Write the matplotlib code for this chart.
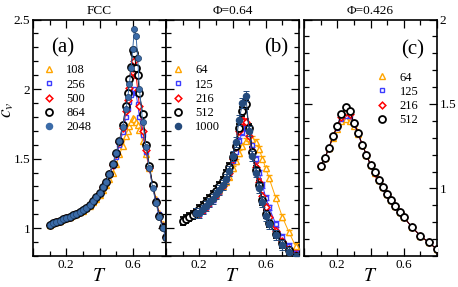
import matplotlib
matplotlib.use('Agg')
import matplotlib.pyplot as plt
from matplotlib.lines import Line2D
from matplotlib.ticker import MultipleLocator, FormatStrFormatter

plt.rcParams['font.family'] = ['Liberation Serif', 'DejaVu Serif']
plt.rcParams['mathtext.fontset'] = 'stix'

# ---- panel (a): FCC ----
T_a = [0.10, 0.12, 0.14, 0.16, 0.18, 0.20, 0.22, 0.24, 0.26, 0.28, 0.30, 0.32, 0.34,
       0.36, 0.38, 0.40, 0.42, 0.44, 0.46, 0.48, 0.50, 0.52, 0.54, 0.56, 0.57, 0.58,
       0.59, 0.60, 0.61, 0.62, 0.63, 0.64, 0.66, 0.68, 0.70, 0.72, 0.74, 0.76, 0.78, 0.80]
a_108 = [1.022, 1.035, 1.044, 1.054, 1.063, 1.071, 1.081, 1.092, 1.103, 1.114, 1.127, 1.142,
         1.162, 1.186, 1.212, 1.240, 1.274, 1.308, 1.350, 1.400, 1.460, 1.530, 1.590, 1.660,
         1.700, 1.735, 1.765, 1.790, 1.785, 1.765, 1.740, 1.705, 1.625, 1.530, 1.430, 1.320,
         1.210, 1.110, 1.030, 0.960]
a_256 = [1.022, 1.035, 1.044, 1.054, 1.063, 1.071, 1.081, 1.092, 1.104, 1.116, 1.130, 1.146,
         1.168, 1.195, 1.222, 1.253, 1.292, 1.330, 1.385, 1.445, 1.515, 1.600, 1.690, 1.800,
         1.860, 1.910, 1.960, 1.990, 2.000, 1.970, 1.890, 1.800, 1.670, 1.550, 1.430, 1.310,
         1.200, 1.100, 1.020, 0.950]
a_500 = [1.022, 1.035, 1.044, 1.054, 1.063, 1.071, 1.081, 1.092, 1.104, 1.116, 1.130, 1.146,
         1.168, 1.195, 1.223, 1.255, 1.295, 1.333, 1.390, 1.455, 1.530, 1.620, 1.720, 1.840,
         1.920, 2.010, 2.090, 2.150, 2.200, 2.100, 1.990, 1.880, 1.700, 1.560, 1.430, 1.300,
         1.190, 1.090, 1.010, 0.940]
a_864 = [1.022, 1.035, 1.044, 1.054, 1.063, 1.071, 1.081, 1.092, 1.104, 1.116, 1.130, 1.146,
         1.168, 1.195, 1.223, 1.255, 1.296, 1.333, 1.393, 1.458, 1.537, 1.630, 1.740, 1.880,
         1.970, 2.070, 2.160, 2.280, 2.260, 2.150, 2.100, 1.970, 1.820, 1.600, 1.450, 1.310,
         1.190, 1.090, 1.010, 0.940]
a_2048 = [1.022, 1.035, 1.044, 1.054, 1.063, 1.071, 1.081, 1.092, 1.104, 1.116, 1.130, 1.146,
          1.168, 1.195, 1.223, 1.255, 1.296, 1.333, 1.393, 1.458, 1.537, 1.630, 1.730, 1.860,
          1.940, 2.040, 2.150, 2.290, 2.430, 2.380, 2.220, 2.000, 1.760, 1.580, 1.430, 1.290,
          1.180, 1.080, 1.000, 0.930]

# ---- panel (b): Phi = 0.64 ----
T_b = [0.10, 0.12, 0.14, 0.16, 0.18, 0.20, 0.22, 0.24, 0.26, 0.28, 0.30, 0.32, 0.34, 0.36,
       0.38, 0.40, 0.42, 0.44, 0.46, 0.48, 0.50, 0.52, 0.54, 0.56, 0.58, 0.60, 0.62, 0.66,
       0.70, 0.74, 0.78]
T_b_short = T_b[4:]
b_64 = [1.100, 1.125, 1.145, 1.170, 1.195, 1.220, 1.245, 1.275, 1.300, 1.335, 1.370, 1.430,
        1.480, 1.540, 1.590, 1.630, 1.650, 1.640, 1.620, 1.570, 1.500, 1.430, 1.360, 1.220,
        1.080, 0.970, 0.870]
b_125 = [1.105, 1.105, 1.130, 1.155, 1.180, 1.205, 1.235, 1.265, 1.300, 1.345, 1.395, 1.480,
         1.550, 1.630, 1.690, 1.720, 1.680, 1.600, 1.500, 1.400, 1.310, 1.220, 1.150, 1.030,
         0.940, 0.870, 0.820]
b_216 = [1.108, 1.108, 1.133, 1.158, 1.183, 1.210, 1.240, 1.272, 1.305, 1.350, 1.400, 1.500,
         1.580, 1.700, 1.770, 1.760, 1.660, 1.550, 1.440, 1.330, 1.230, 1.150, 1.080, 0.980,
         0.910, 0.850, 0.810]
b_512 = [1.050, 1.065, 1.080, 1.095, 1.110, 1.135, 1.160, 1.185, 1.210, 1.240, 1.270, 1.305,
         1.340, 1.390, 1.440, 1.510, 1.590, 1.720, 1.840, 1.890, 1.720, 1.550, 1.420, 1.310,
         1.200, 1.100, 1.040, 0.960, 0.890, 0.840, 0.800]
b_1000 = [1.110, 1.110, 1.135, 1.160, 1.185, 1.212, 1.243, 1.275, 1.310, 1.355, 1.410, 1.520,
          1.620, 1.780, 1.900, 1.950, 1.700, 1.520, 1.400, 1.290, 1.190, 1.090, 1.030, 0.950,
          0.880, 0.830, 0.790]
b_err = [0.02, 0.02, 0.025, 0.03, 0.035]

# ---- panel (c): Phi = 0.426 ----
T_c = [0.100, 0.125, 0.150, 0.175, 0.200, 0.225, 0.250, 0.275, 0.300, 0.325, 0.350, 0.375,
       0.400, 0.425, 0.450, 0.475, 0.500, 0.525, 0.550, 0.575, 0.600, 0.650, 0.700, 0.750, 0.800]
c_64 = [1.13, 1.18, 1.24, 1.30, 1.35, 1.40, 1.41, 1.40, 1.37, 1.32, 1.26, 1.20, 1.14, 1.09,
        1.05, 1.01, 0.97, 0.93, 0.895, 0.86, 0.83, 0.77, 0.72, 0.68, 0.64]
c_125 = [1.13, 1.18, 1.24, 1.31, 1.36, 1.41, 1.43, 1.43, 1.38, 1.32, 1.26, 1.20, 1.14, 1.09,
         1.05, 1.01, 0.97, 0.93, 0.895, 0.86, 0.83, 0.77, 0.72, 0.68, 0.64]
c_216 = [1.13, 1.18, 1.24, 1.31, 1.37, 1.42, 1.45, 1.44, 1.39, 1.33, 1.26, 1.20, 1.14, 1.09,
         1.05, 1.01, 0.97, 0.93, 0.895, 0.86, 0.83, 0.77, 0.72, 0.68, 0.64]
c_512 = [1.13, 1.18, 1.24, 1.31, 1.37, 1.44, 1.48, 1.46, 1.39, 1.33, 1.26, 1.20, 1.14, 1.095,
         1.05, 1.01, 0.97, 0.93, 0.895, 0.86, 0.83, 0.77, 0.72, 0.68, 0.64]

ORANGE = '#ffa500'
BLUE = '#3c3cff'
RED = '#ff0000'
STEEL = '#3b6ba8'
NAVY = '#244a7c'

# marker styles: (marker, size, edge width)
STY = {'tri': ('^', 4.0, 1.0), 'sq': ('s', 3.4, 1.0), 'dia': ('D', 3.4, 1.1),
       'circ': ('o', 5.0, 1.3), 'fill': ('o', 4.4, 0.5)}

fig = plt.figure(figsize=(4.58, 2.87), dpi=100)
ax_a = fig.add_axes([33 / 458, 0.108, 133 / 458, 0.824])
ax_b = fig.add_axes([166 / 458, 0.108, 133 / 458, 0.824])
ax_c = fig.add_axes([304 / 458, 0.108, 133 / 458, 0.824])


def handle(kind, color, label):
    m, ms, mew = STY[kind]
    if kind == 'fill':
        return Line2D([], [], ls='none', marker=m, ms=ms, mfc=color, mec=color, label=label)
    return Line2D([], [], ls='none', marker=m, ms=ms, mfc='white', mec=color, mew=mew,
                  label=label)


def open_series(ax, x, y, kind, color, zorder=3):
    m, ms, mew = STY[kind]
    ax.plot(x, y, '-', color=color, lw=0.7, marker=m, ms=ms, mfc='white',
            mec=color, mew=mew, zorder=zorder)


def add_legend(ax, handles, x0, y0):
    ax.legend(handles=handles, frameon=False, loc='upper left', bbox_to_anchor=(x0, y0),
              fontsize=9, handlelength=0.8, handletextpad=1.0, labelspacing=0.18,
              borderaxespad=0, borderpad=0)


# panel a
open_series(ax_a, T_a, a_108, 'tri', ORANGE)
open_series(ax_a, T_a, a_256, 'sq', BLUE)
open_series(ax_a, T_a, a_500, 'dia', RED)
open_series(ax_a, T_a, a_864, 'circ', 'black')
ax_a.plot(T_a, a_2048, '-', color=STEEL, lw=0.7, marker='o', ms=STY['fill'][1], mfc=STEEL,
          mec='#1f3f66', mew=0.5, zorder=4)
add_legend(ax_a, [handle('tri', ORANGE, '108'), handle('sq', BLUE, '256'),
                  handle('dia', RED, '500'), handle('circ', 'black', '864'),
                  handle('fill', STEEL, '2048')], 0.08, 0.81)

# panel b
b_series = [(T_b_short, b_64, 'tri', ORANGE),
            (T_b_short, b_125, 'sq', BLUE),
            (T_b_short, b_216, 'dia', RED),
            (T_b, b_512, 'circ', 'black')]
for i, (x, y, kind, col) in enumerate(b_series):
    m, ms, mew = STY[kind]
    ax_b.errorbar(x, y, yerr=b_err[i], fmt='-', color=col, lw=0.7, marker=m, ms=ms,
                  mfc='white', mec=col, mew=mew, capsize=2.5,
                  elinewidth=0.7, capthick=0.7, zorder=3)
ax_b.errorbar(T_b_short, b_1000, yerr=b_err[4], fmt='-', color=NAVY, lw=0.7, marker='o',
              ms=STY['fill'][1], mfc=NAVY, mec=NAVY, capsize=2.5, elinewidth=0.7,
              capthick=0.7, zorder=4)
add_legend(ax_b, [handle('tri', ORANGE, '64'), handle('sq', BLUE, '125'),
                  handle('dia', RED, '216'), handle('circ', 'black', '512'),
                  handle('fill', NAVY, '1000')], 0.05, 0.81)

# panel c
open_series(ax_c, T_c, c_64, 'tri', ORANGE)
open_series(ax_c, T_c, c_125, 'sq', BLUE)
open_series(ax_c, T_c, c_216, 'dia', RED)
open_series(ax_c, T_c, c_512, 'circ', 'black')
add_legend(ax_c, [handle('tri', ORANGE, '64'), handle('sq', BLUE, '125'),
                  handle('dia', RED, '216'), handle('circ', 'black', '512')], 0.55, 0.78)

for ax in (ax_a, ax_b, ax_c):
    ax.set_xlim(0, 0.8)
    ax.set_xticks([0.0, 0.2, 0.4, 0.6, 0.8])
    ax.set_xticklabels(['', '0.2', '', '0.6', ''])
    ax.xaxis.set_minor_locator(MultipleLocator(0.1))
    ax.yaxis.set_major_locator(MultipleLocator(0.5))
    ax.yaxis.set_minor_locator(MultipleLocator(0.1))
    ax.yaxis.set_major_formatter(FormatStrFormatter('%g'))
    ax.tick_params(which='both', direction='in', top=True, right=True, width=0.9,
                   labelsize=9.5, pad=2)
    ax.tick_params(which='major', length=6)
    ax.tick_params(which='minor', length=3.5)
    for s in ax.spines.values():
        s.set_linewidth(1.2)
    ax.set_xlabel('$T$', fontsize=14, labelpad=-2)

ax_a.set_ylim(0.8, 2.5)
ax_b.set_ylim(0.8, 2.5)
ax_c.set_ylim(0.6, 2.0)
ax_b.tick_params(labelleft=False)
ax_c.tick_params(labelleft=False, labelright=True)

ax_a.set_ylabel('$c_v$', fontsize=14)
ax_a.yaxis.set_label_coords(-0.125, 0.62)
ax_a.set_title('FCC', fontsize=9.5, pad=4)
ax_b.set_title('\u03a6=0.64', fontsize=9.5, pad=4)
ax_c.set_title('\u03a6=0.426', fontsize=9.5, pad=4)

ax_a.text(0.22, 0.88, '(a)', transform=ax_a.transAxes, fontsize=15, ha='center', va='center')
ax_b.text(0.83, 0.88, '(b)', transform=ax_b.transAxes, fontsize=15, ha='center', va='center')
ax_c.text(0.82, 0.87, '(c)', transform=ax_c.transAxes, fontsize=15, ha='center', va='center')

fig.savefig('out.png', dpi=100)
